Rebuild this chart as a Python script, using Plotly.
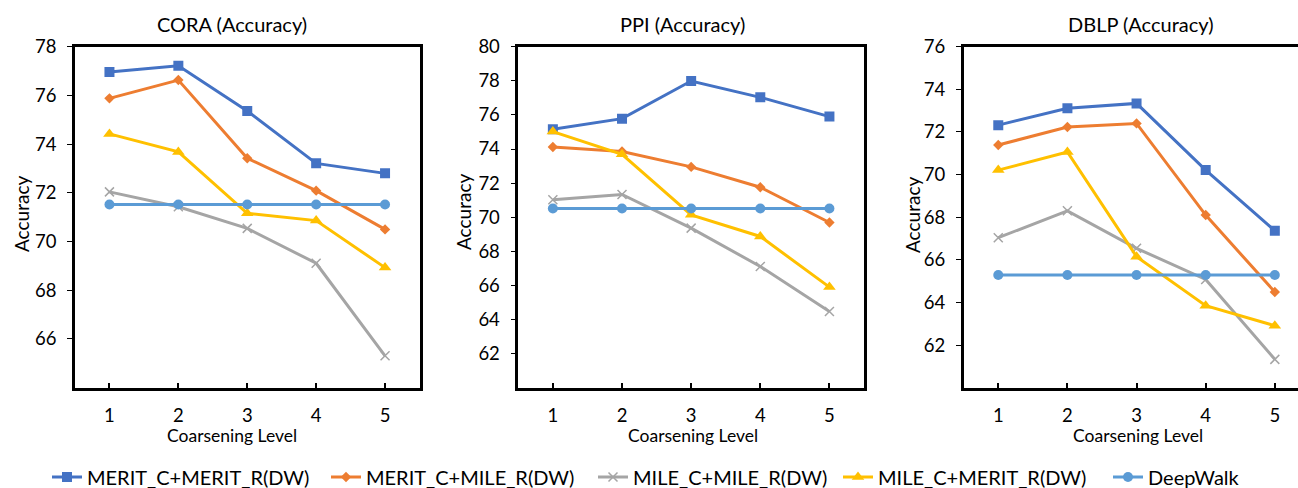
import plotly.graph_objects as go

levels = [1, 2, 3, 4, 5]
series_names = ["MERIT_C+MERIT_R(DW)", "MERIT_C+MILE_R(DW)", "MILE_C+MILE_R(DW)",
                "MILE_C+MERIT_R(DW)", "DeepWalk"]

cora_merit_merit = [76.96, 77.22, 75.36, 73.21, 72.80]
cora_merit_mile = [75.88, 76.63, 73.42, 72.09, 70.50]
cora_mile_mile = [72.04, 71.43, 70.54, 69.11, 65.31]
cora_mile_merit = [74.42, 73.68, 71.16, 70.86, 68.93]
cora_deepwalk = [71.52, 71.52, 71.52, 71.52, 71.52]

ppi_merit_merit = [75.16, 75.78, 77.99, 77.03, 75.90]
ppi_merit_mile = [74.12, 73.85, 72.95, 71.76, 69.69]
ppi_mile_mile = [71.02, 71.33, 69.36, 67.11, 64.47]
ppi_mile_merit = [75.02, 73.69, 70.14, 68.87, 65.90]
ppi_deepwalk = [70.51, 70.51, 70.51, 70.51, 70.51]

dblp_merit_merit = [72.32, 73.11, 73.34, 70.21, 67.37]
dblp_merit_mile = [71.39, 72.23, 72.40, 68.10, 64.49]
dblp_mile_mile = [67.04, 68.30, 66.54, 65.08, 61.33]
dblp_mile_merit = [70.21, 71.06, 66.15, 63.85, 62.91]
dblp_deepwalk = [65.29, 65.29, 65.29, 65.29, 65.29]

cora_ticks = [66, 68, 70, 72, 74, 76, 78]
ppi_ticks = [62, 64, 66, 68, 70, 72, 74, 76, 78, 80]
dblp_ticks = [62, 64, 66, 68, 70, 72, 74, 76]

panels = [
    ("CORA (Accuracy)", [cora_merit_merit, cora_merit_mile, cora_mile_mile, cora_mile_merit, cora_deepwalk],
     cora_ticks, [64, 78]),
    ("PPI (Accuracy)", [ppi_merit_merit, ppi_merit_mile, ppi_mile_mile, ppi_mile_merit, ppi_deepwalk],
     ppi_ticks, [60, 80]),
    ("DBLP (Accuracy)", [dblp_merit_merit, dblp_merit_mile, dblp_mile_mile, dblp_mile_merit, dblp_deepwalk],
     dblp_ticks, [60, 76]),
]

colors = ["#4472C4", "#ED7D31", "#A5A5A5", "#FFC000", "#5B9BD5"]
symbols = ["square", "diamond", "x-thin", "triangle-up", "circle"]
msizes = [10, 8, 9, 11, 10]

W, H = 1298, 488
FONT = "Lato"
x_domains = [[75 / W, 419.5 / W], [518.3 / W, 864 / W], [963.7 / W, 1.0]]
x_ranges = [[0.5, 5.5], [0.5, 5.5], [0.5, 0.5 + (W - 963.7) / 69.14]]
y_domain = [1 - 387.7 / H, 1 - 46.7 / H]
title_pos = [(232, 24), (682, 24), (1141, 24)]
xtitle_pos = [(232, 435), (693, 435), (1138, 435)]
ytitle_pos = [(21, 214), (464, 212), (912, 215)]
legend_text_x = [89, 368, 635, 880, 1150]

fig = go.Figure()
layout = {}
annotations = []
for i, (title, data, ticks, yr) in enumerate(panels):
    sfx = "" if i == 0 else str(i + 1)
    for j, vals in enumerate(data):
        mk = dict(symbol=symbols[j], size=msizes[j], color=colors[j])
        if symbols[j] == "x-thin":
            mk["line"] = dict(color=colors[j], width=1.5)
        fig.add_trace(go.Scatter(
            x=levels, y=vals, mode="lines+markers", name=series_names[j],
            line=dict(color=colors[j], width=3), marker=mk,
            xaxis="x" + sfx, yaxis="y" + sfx, showlegend=(i == 0),
            legend="legend" if j == 0 else "legend" + str(j + 1),
            legendgroup=series_names[j]))
    layout["xaxis" + sfx] = dict(
        domain=x_domains[i], range=x_ranges[i], anchor="y" + sfx,
        tickvals=levels, ticktext=[str(v) for v in levels],
        showline=True, linecolor="black", linewidth=2.5, mirror=True,
        ticks="inside", ticklen=5, tickwidth=2, tickcolor="black",
        showgrid=False, zeroline=False, ticklabelstandoff=9,
        tickfont=dict(family=FONT, size=18.5, color="black"))
    layout["yaxis" + sfx] = dict(
        domain=y_domain, range=yr, anchor="x" + sfx,
        tickvals=ticks, ticktext=[str(t) for t in ticks],
        showline=True, linecolor="black", linewidth=2.5, mirror=(i < 2),
        ticks="outside", ticklen=5, tickwidth=1, tickcolor="black",
        showgrid=False, zeroline=False, ticklabelstandoff=7,
        tickfont=dict(family=FONT, size=18.5, color="black"))
    annotations.append(dict(text=title, x=title_pos[i][0] / W, y=1 - title_pos[i][1] / H,
                            xref="paper", yref="paper", showarrow=False,
                            xanchor="center", yanchor="middle",
                            font=dict(family=FONT, size=20, color="black")))
    annotations.append(dict(text="Coarsening Level", x=xtitle_pos[i][0] / W, y=1 - xtitle_pos[i][1] / H,
                            xref="paper", yref="paper", showarrow=False,
                            xanchor="center", yanchor="middle",
                            font=dict(family=FONT, size=17.5, color="black")))
    annotations.append(dict(text="Accuracy", x=ytitle_pos[i][0] / W, y=1 - ytitle_pos[i][1] / H,
                            xref="paper", yref="paper", showarrow=False, textangle=-90,
                            xanchor="center", yanchor="middle",
                            font=dict(family=FONT, size=19, color="black")))

for j in range(len(series_names)):
    key = "legend" if j == 0 else "legend" + str(j + 1)
    layout[key] = dict(orientation="h", xref="container", yref="container",
                       x=(legend_text_x[j] - 42) / W, y=1 - 477 / H,
                       xanchor="left", yanchor="middle",
                       font=dict(family=FONT, size=20, color="black"),
                       bgcolor="rgba(0,0,0,0)", borderwidth=0)

fig.update_layout(
    width=W, height=H, margin=dict(l=0, r=0, t=0, b=0, autoexpand=False),
    paper_bgcolor="white", plot_bgcolor="white",
    annotations=annotations,
    **layout)

fig.write_html("out.html")
